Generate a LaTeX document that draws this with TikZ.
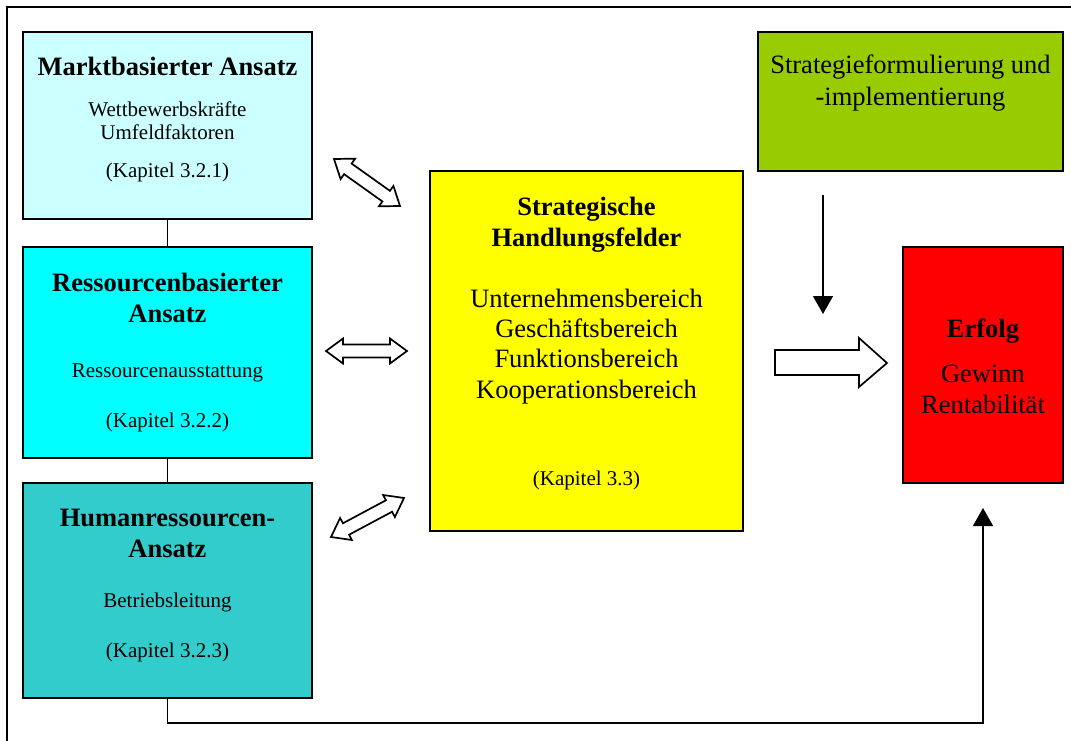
\documentclass[tikz,border=0pt]{standalone}
\usepackage{fontspec}
\setmainfont{Liberation Serif}
\usetikzlibrary{calc,arrows.meta}

\definecolor{mktfill}{HTML}{CCFFFF}
\definecolor{resfill}{HTML}{00FFFF}
\definecolor{humfill}{HTML}{33CCCC}
\definecolor{shfill}{HTML}{FFFF00}
\definecolor{sfifill}{HTML}{99CC00}
\definecolor{erffill}{HTML}{FF0000}

\tikzset{
  box/.style={draw, line width=1.6pt, anchor=north west, inner sep=0pt, outer sep=0pt},
  txtbig/.style={font=\fontsize{26.5}{30}\selectfont, anchor=base, inner sep=0pt},
  txtbold/.style={font=\fontsize{26.5}{30}\selectfont\bfseries, anchor=base, inner sep=0pt},
  txtsmall/.style={font=\fontsize{21}{24}\selectfont, anchor=base, inner sep=0pt},
  link/.style={line width=1.4pt},
  flow/.style={line width=1.4pt, -{Triangle[width=20pt,length=18pt]}},
  blockarrow/.style={draw, fill=white, line width=1.7pt, line join=miter},
}

% hollow two-headed block arrow between two named coordinates
\newcommand\twowayarrow[2]{%
  \draw[blockarrow] (#1)
    -- ($(#1)!17pt!(#2)!12.5pt!90:(#2)$)
    -- ($(#1)!17pt!(#2)!6.5pt!90:(#2)$)
    -- ($(#2)!17pt!(#1)!6.5pt!-90:(#1)$)
    -- ($(#2)!17pt!(#1)!12.5pt!-90:(#1)$)
    -- (#2)
    -- ($(#2)!17pt!(#1)!12.5pt!90:(#1)$)
    -- ($(#2)!17pt!(#1)!6.5pt!90:(#1)$)
    -- ($(#1)!17pt!(#2)!6.5pt!-90:(#2)$)
    -- ($(#1)!17pt!(#2)!12.5pt!-90:(#2)$)
    -- cycle;}

\begin{document}
\begin{tikzpicture}[x=1pt, y=-1pt]
\useasboundingbox (0,0) rectangle (1071,741);

% outer frame
\draw[line width=1.4pt] (7,741) -- (7,7) -- (1071,7);

% boxes
\node[box, fill=mktfill, minimum width=289pt, minimum height=187pt] (markt) at (23,32) {};
\node[box, fill=resfill, minimum width=289pt, minimum height=211pt] (ress) at (23,247) {};
\node[box, fill=humfill, minimum width=289pt, minimum height=215pt] (human) at (23,483) {};
\node[box, fill=shfill, minimum width=313pt, minimum height=360pt] (felder) at (430,171) {};
\node[box, fill=sfifill, minimum width=305pt, minimum height=139pt] (formul) at (758,32) {};
\node[box, fill=erffill, minimum width=160pt, minimum height=236pt] (erfolg) at (903,247) {};

% texts: market-based approach
\node[txtbold] (mt1) at (167.5,76) {Marktbasierter Ansatz};
\node[txtsmall] (mt2) at (167.5,117) {Wettbewerbskräfte};
\node[txtsmall] (mt3) at (167.5,140) {Umfeldfaktoren};
\node[txtsmall] (mt4) at (167.5,177) {(Kapitel 3.2.1)};

% resource-based approach
\node[txtbold] (rs1) at (167.5,291) {Ressourcenbasierter};
\node[txtbold] (rs2) at (167.5,322) {Ansatz};
\node[txtsmall] (rs3) at (167.5,377) {Ressourcenausstattung};
\node[txtsmall] (rs4) at (167.5,427) {(Kapitel 3.2.2)};

% human resources approach
\node[txtbold] (hu1) at (167.5,526) {Humanressourcen-};
\node[txtbold] (hu2) at (167.5,557) {Ansatz};
\node[txtsmall] (hu3) at (167.5,607) {Betriebsleitung};
\node[txtsmall] (hu4) at (167.5,657) {(Kapitel 3.2.3)};

% strategic fields of action
\node[txtbold] (sh1) at (586.5,215) {Strategische};
\node[txtbold] (sh2) at (586.5,246) {Handlungsfelder};
\node[txtbig] (sh3) at (586.5,307) {Unternehmensbereich};
\node[txtbig] (sh4) at (586.5,337) {Geschäftsbereich};
\node[txtbig] (sh5) at (586.5,367) {Funktionsbereich};
\node[txtbig] (sh6) at (586.5,398) {Kooperationsbereich};
\node[txtsmall] (sh7) at (586.5,485) {(Kapitel 3.3)};

% strategy formulation
\node[txtbig] (sf1) at (910.5,74) {Strategieformulierung und};
\node[txtbig] (sf2) at (910.5,106) {-implementierung};

% success
\node[txtbold] (er1) at (983,337) {Erfolg};
\node[txtbig] (er2) at (983,382) {Gewinn};
\node[txtbig] (er3) at (983,413) {Rentabilität};

% links between the three approaches
\draw[link] (markt.south) -- (ress.north);
\draw[link] (ress.south) -- (human.north);

% feedback line into success
\coordinate (fbcorner) at (983,723);
\coordinate (fbtip) at ($(erfolg.south)+(0,25)$);
\draw[flow] (human.south) |- (fbcorner) -- (fbtip);

% influence of formulation/implementation
\coordinate (dsrc) at (823,195);
\coordinate (dtip) at (823,314);
\draw[flow] (dsrc) -- (dtip);

% two-way block arrows
\coordinate (a1s) at (334,159); \coordinate (a1e) at (400,206);
\coordinate (a2s) at (326,351); \coordinate (a2e) at (407,351);
\coordinate (a3s) at (331,537); \coordinate (a3e) at (404,498);
\twowayarrow{a1s}{a1e}
\twowayarrow{a2s}{a2e}
\twowayarrow{a3s}{a3e}

% block arrow into success
\draw[blockarrow] (775,350) -- (859,350) -- (859,338) -- (887,363)
  -- (859,387) -- (859,375) -- (775,375) -- cycle;
\end{tikzpicture}
\end{document}
